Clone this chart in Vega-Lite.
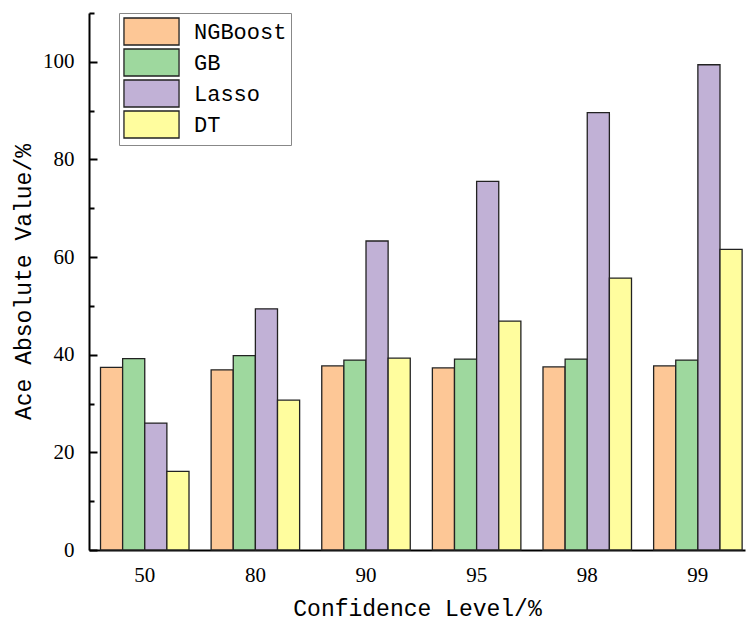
{
  "$schema": "https://vega.github.io/schema/vega-lite/v6.json",
  "width": 656,
  "height": 537,
  "autosize": {"type": "none"},
  "padding": {"left": 89, "top": 13, "right": 2, "bottom": 76},
  "background": "white",
  "config": {
    "view": {"stroke": null},
    "axis": {
      "domainColor": "black",
      "domainWidth": 2,
      "tickColor": "black",
      "tickWidth": 2,
      "grid": false,
      "labelFont": "Liberation Serif",
      "labelFontSize": 21,
      "labelColor": "black",
      "titleFont": "Liberation Mono",
      "titleFontSize": 23,
      "titleFontWeight": "normal",
      "titleColor": "black"
    }
  },
  "data": {
    "values": [
      {"level": "50", "model": "NGBoost", "value": 37.4},
      {"level": "50", "model": "GB", "value": 39.2},
      {"level": "50", "model": "Lasso", "value": 26.0},
      {"level": "50", "model": "DT", "value": 16.1},
      {"level": "80", "model": "NGBoost", "value": 36.9},
      {"level": "80", "model": "GB", "value": 39.8},
      {"level": "80", "model": "Lasso", "value": 49.4},
      {"level": "80", "model": "DT", "value": 30.7},
      {"level": "90", "model": "NGBoost", "value": 37.7},
      {"level": "90", "model": "GB", "value": 38.9},
      {"level": "90", "model": "Lasso", "value": 63.3},
      {"level": "90", "model": "DT", "value": 39.3},
      {"level": "95", "model": "NGBoost", "value": 37.3},
      {"level": "95", "model": "GB", "value": 39.1},
      {"level": "95", "model": "Lasso", "value": 75.5},
      {"level": "95", "model": "DT", "value": 46.9},
      {"level": "98", "model": "NGBoost", "value": 37.5},
      {"level": "98", "model": "GB", "value": 39.1},
      {"level": "98", "model": "Lasso", "value": 89.6},
      {"level": "98", "model": "DT", "value": 55.7},
      {"level": "99", "model": "NGBoost", "value": 37.7},
      {"level": "99", "model": "GB", "value": 38.9},
      {"level": "99", "model": "Lasso", "value": 99.4},
      {"level": "99", "model": "DT", "value": 61.6}
    ]
  },
  "layer": [
    {
      "mark": {"type": "bar", "stroke": "#222222", "strokeWidth": 1.3},
      "encoding": {
        "x": {
          "field": "level", "type": "nominal", "sort": null,
          "scale": {"paddingInner": 0.2, "paddingOuter": 0.065, "align": 0.8},
          "axis": {"title": "Confidence Level/%", "labelAngle": 0, "tickSize": -5, "labelPadding": 19, "titlePadding": 12}
        },
        "xOffset": {"field": "model", "type": "nominal", "sort": ["NGBoost", "GB", "Lasso", "DT"], "scale": {"paddingInner": 0, "paddingOuter": 0}},
        "y": {
          "field": "value", "type": "quantitative",
          "scale": {"domain": [0, 110], "nice": false},
          "axis": {"title": "Ace Absolute Value/%", "values": [0, 20, 40, 60, 80, 100], "tickSize": -8, "labelPadding": 23, "titlePadding": 7}
        },
        "color": {
          "field": "model", "type": "nominal",
          "sort": ["NGBoost", "GB", "Lasso", "DT"],
          "scale": {"domain": ["NGBoost", "GB", "Lasso", "DT"], "range": ["#FDC796", "#9ED89E", "#C1B1D6", "#FFFD9E"]},
          "legend": {
            "title": null,
            "orient": "none",
            "legendX": 30,
            "legendY": 0,
            "symbolType": "M-2.04,-1H2.04V1H-2.04Z",
            "symbolSize": 729,
            "symbolOffset": 14,
            "symbolStrokeColor": "#222222",
            "symbolStrokeWidth": 1.3,
            "symbolOpacity": 1,
            "labelFont": "Liberation Mono",
            "labelFontSize": 22,
            "labelColor": "black",
            "labelOffset": 28,
            "strokeColor": "#888888",
            "fillColor": "white",
            "padding": 4,
            "rowPadding": -2
          }
        }
      }
    },
    {
      "mark": {"type": "point", "opacity": 0},
      "encoding": {
        "y": {
          "field": "value", "type": "quantitative",
          "scale": {"domain": [0, 110], "nice": false},
          "axis": {"orient": "left", "title": null, "labels": false, "domain": false, "values": [10, 30, 50, 70, 90, 110], "tickSize": -5}
        }
      }
    }
  ],
  "resolve": {"scale": {"y": "independent"}}
}
